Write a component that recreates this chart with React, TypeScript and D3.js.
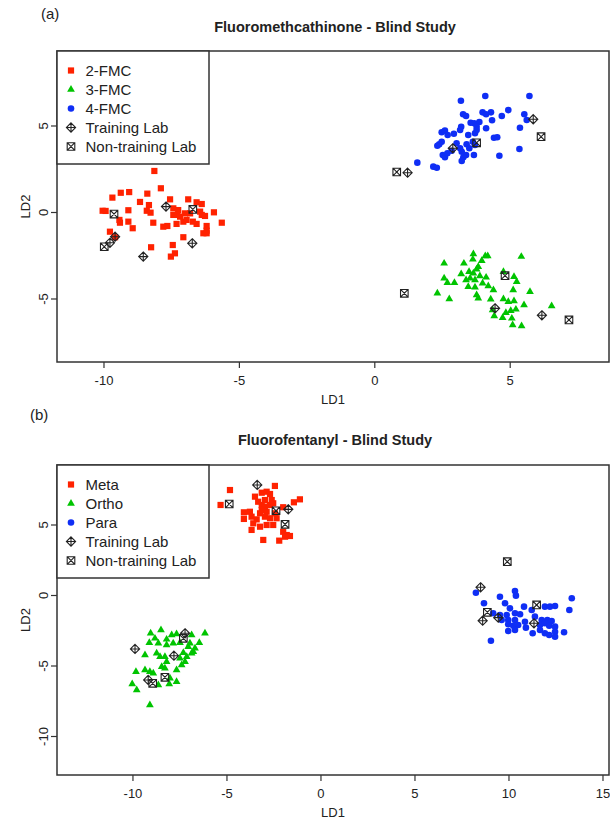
import React from 'react';
import * as d3 from 'd3';

type Pt = [number, number];

// ---- (a) Fluoromethcathinone ----
const fmc2: Pt[] = [
  [-8.14, 2.4], [-9.38, 1.14], [-9.07, 1.18], [-9.69, 0.86], [-8.4, 1.09], [-7.9, 1.4],
  [-8.67, 0.61], [-8.34, 0.43], [-7.56, 0.76], [-6.89, 0.76], [-6.58, 0.59], [-6.39, 0.49],
  [-9.1, 0.13], [-10.05, 0.1], [-9.94, 0.09], [-8.42, 0.1], [-8.28, -0.01], [-7.44, 0.24],
  [-7.26, 0.14], [-7.29, -0.14], [-7.44, -0.14], [-7.19, -0.24], [-7.01, -0.05], [-6.82, -0.05],
  [-6.45, 0.05], [-6.39, -0.14], [-6.27, -0.2], [-5.94, 0.01], [-9.43, -0.43], [-9.41, -0.59],
  [-9.1, -0.53], [-8.18, -0.59], [-7.81, -0.82], [-7.66, -0.78], [-7.32, -0.66], [-7.07, -0.53],
  [-6.95, -0.43], [-6.72, -0.53], [-6.58, -0.66], [-6.21, -0.78], [-5.65, -0.59], [-8.94, -0.91],
  [-6.21, -1.05], [-6.33, -1.2], [-6.21, -1.2], [-9.78, -1.11], [-7.07, -1.43], [-8.26, -2.01],
  [-7.46, -1.88], [-7.38, -2.36], [-7.53, -2.55], [-9.59, -1.43],
];
const fmc3: Pt[] = [
  [3.64, -2.4], [3.62, -2.71], [4.08, -2.51], [4.17, -2.51], [3.95, -2.79], [5.41, -2.55],
  [2.56, -2.94], [3.29, -2.94], [3.82, -3.13], [3.19, -3.55], [3.48, -3.42], [3.64, -3.51],
  [3.76, -3.28], [2.56, -3.8], [2.68, -4.06], [2.94, -4.06], [3.37, -3.9], [3.52, -3.8],
  [3.7, -3.9], [3.88, -3.67], [4.11, -3.75], [3.45, -4.29], [3.7, -4.32], [3.98, -4.09],
  [4.19, -4.25], [4.38, -4.48], [4.75, -3.42], [5.14, -3.71], [5.24, -4.0], [5.11, -4.48],
  [5.73, -4.58], [2.31, -4.67], [2.75, -5.0], [3.76, -4.77], [3.82, -4.96], [4.28, -5.02],
  [4.75, -5.0], [4.93, -5.16], [5.14, -5.12], [5.51, -5.35], [6.53, -5.4], [4.35, -5.64],
  [5.21, -5.6], [5.02, -5.68], [4.41, -5.98], [4.72, -6.08], [5.06, -6.12], [5.09, -6.5],
  [5.42, -6.56], [4.84, -5.79],
];
const fmc4: Pt[] = [
  [3.18, 6.46], [4.08, 6.73], [5.71, 6.73], [3.26, 5.68], [3.37, 5.58], [3.98, 5.79],
  [4.11, 5.68], [4.29, 5.79], [4.93, 5.92], [4.69, 5.58], [5.52, 5.68], [5.61, 5.35],
  [4.33, 5.33], [3.54, 5.19], [3.67, 5.16], [3.86, 5.23], [3.76, 4.96], [3.19, 4.96],
  [3.15, 4.77], [4.11, 4.87], [5.36, 4.9], [2.47, 4.64], [2.59, 4.73], [2.69, 4.48],
  [2.92, 4.55], [3.45, 4.48], [3.7, 4.58], [3.76, 4.77], [4.4, 4.32], [4.52, 4.35],
  [2.47, 4.09], [2.38, 3.94], [2.31, 3.86], [3.02, 4.0], [3.15, 3.71], [3.39, 3.94],
  [3.49, 3.71], [3.62, 4.09], [3.7, 3.9], [2.51, 3.32], [2.59, 3.19], [2.68, 3.42],
  [2.84, 3.57], [3.21, 3.51], [3.37, 3.32], [3.27, 3.19], [3.66, 3.32], [3.21, 2.98],
  [4.6, 3.28], [5.34, 3.67], [1.57, 2.88], [2.16, 2.65], [2.29, 2.59],
];
const fmcTraining: Pt[] = [
  [-7.71, 0.34], [-9.59, -1.4], [-9.78, -1.75], [-6.74, -1.78], [-8.55, -2.55],
  [4.44, -5.54], [6.17, -5.94],
  [5.85, 5.39], [2.88, 3.71], [1.21, 2.3],
];
const fmcNonTraining: Pt[] = [
  [-9.63, -0.09], [-6.72, 0.18], [-9.99, -1.98],
  [4.81, -3.65], [1.09, -4.67], [7.17, -6.21],
  [3.76, 4.03], [6.14, 4.38], [0.81, 2.34],
];

// ---- (b) Fluorofentanyl ----
const meta: Pt[] = [
  [-4.84, 7.48], [-2.45, 7.77], [-5.34, 6.42], [-3.51, 7.01], [-3.15, 7.29], [-2.89, 7.36],
  [-2.71, 7.2], [-3.34, 6.65], [-2.98, 6.77], [-2.62, 6.77], [-3.15, 6.42], [-2.98, 6.3],
  [-2.71, 6.42], [-2.54, 6.54], [-3.15, 6.06], [-2.89, 5.94], [-1.12, 6.82], [-1.44, 6.61],
  [-2.01, 6.26], [-4.1, 5.9], [-3.78, 5.94], [-4.1, 5.43], [-3.69, 5.59], [-3.42, 5.4],
  [-3.24, 5.83], [-2.98, 5.59], [-2.71, 5.48], [-2.45, 5.83], [-2.36, 5.48], [-3.6, 5.12],
  [-3.24, 4.88], [-2.89, 5.0], [-2.54, 5.0], [-3.69, 4.65], [-2.01, 4.52], [-1.82, 4.29],
  [-1.65, 4.22], [-1.91, 4.17], [-3.07, 3.94], [-2.22, 3.89],
];
const ortho: Pt[] = [
  [-8.51, -2.45], [-9.06, -2.68], [-7.94, -2.8], [-7.68, -2.73], [-6.88, -2.8], [-6.17, -2.68],
  [-8.83, -3.04], [-9.13, -3.35], [-8.65, -3.39], [-8.21, -3.11], [-8.21, -3.51], [-7.86, -3.39],
  [-7.5, -3.35], [-6.97, -3.39], [-6.47, -3.35], [-6.7, -3.74], [-9.36, -4.22], [-8.74, -4.1],
  [-8.56, -4.34], [-8.3, -4.34], [-8.21, -4.7], [-7.5, -4.45], [-7.14, -4.34], [-6.88, -4.1],
  [-6.79, -3.99], [-7.23, -4.7], [-7.41, -4.93], [-8.47, -5.05], [-8.3, -5.16], [-7.68, -5.28],
  [-9.84, -5.4], [-9.36, -5.28], [-9.1, -5.4], [-8.92, -5.52], [-8.03, -5.87], [-7.68, -6.11],
  [-8.07, -6.28], [-10.04, -6.28], [-9.8, -6.7], [-8.65, -6.35], [-9.1, -7.77], [-7.32, -4.06],
  [-7.06, -3.63],
];
const para: Pt[] = [
  [8.24, 0.2], [10.32, 0.32], [10.37, -0.01], [9.52, -0.09], [8.67, -0.55], [9.79, -0.55],
  [10.8, -0.79], [10.05, -0.91], [13.34, -0.2], [13.21, -1.03], [11.21, -1.03], [11.91, -0.79],
  [12.18, -0.79], [12.45, -0.74], [9.52, -1.38], [9.88, -1.38], [10.32, -1.26], [10.59, -1.33],
  [9.61, -1.74], [9.96, -1.74], [10.32, -1.74], [9.96, -2.04], [10.23, -2.14], [10.49, -2.09],
  [10.85, -1.86], [11.38, -1.5], [11.74, -1.74], [12.04, -1.74], [12.27, -1.81], [11.65, -2.09],
  [11.91, -1.97], [12.14, -2.14], [12.45, -2.21], [10.9, -2.28], [9.96, -2.52], [10.32, -2.45],
  [11.26, -2.68], [11.65, -2.45], [11.91, -2.68], [12.45, -2.57], [12.14, -2.8], [12.45, -2.92],
  [12.93, -2.61], [9.04, -3.21], [9.16, -1.26],
];
const fenTraining: Pt[] = [
  [-3.39, 7.84], [-1.74, 6.11],
  [-9.89, -3.79], [-7.82, -4.27], [-9.19, -5.99], [-7.23, -2.68],
  [8.49, 0.58], [8.6, -1.79], [9.43, -1.57], [11.33, -1.97],
];
const fenNonTraining: Pt[] = [
  [-4.88, 6.49], [-2.39, 6.01], [-1.91, 5.05],
  [-7.32, -3.04], [-8.3, -5.8], [-8.95, -6.23],
  [9.91, 2.4], [11.47, -0.67], [8.85, -1.19],
];

const topXTicks = [-10, -5, 0, 5];
const topYTicks = [-5, 0, 5];
const botXTicks = [-10, -5, 0, 5, 10, 15];
const botYTicks = [-10, -5, 0, 5];
const topLegend = ['2-FMC', '3-FMC', '4-FMC', 'Training Lab', 'Non-training Lab'];
const botLegend = ['Meta', 'Ortho', 'Para', 'Training Lab', 'Non-training Lab'];

const RED = '#ff2200';
const GREEN = '#00c400';
const BLUE = '#0f2ef5';
const FONT = '"Liberation Sans", Arial, Helvetica, sans-serif';
const LEFT = 57;
const RIGHT = 609;

type Kind = 'square' | 'triangle' | 'circle' | 'training' | 'nontraining';

const tri = d3.symbol(d3.symbolTriangle, 26)() as string;

function Marker({ kind, x, y }: { kind: Kind; x: number; y: number }) {
  if (kind === 'square') return <rect x={x - 3.1} y={y - 3.1} width={6.2} height={6.2} fill={RED} />;
  if (kind === 'circle') return <circle cx={x} cy={y} r={3.3} fill={BLUE} />;
  if (kind === 'triangle') return <path d={tri} transform={`translate(${x},${y})`} fill={GREEN} />;
  if (kind === 'training') {
    const r = 4.6;
    return (
      <path
        d={`M${x},${y - r}L${x + r},${y}L${x},${y + r}L${x - r},${y}Z M${x},${y - r}V${y + r} M${x - r},${y}H${x + r}`}
        fill="none" stroke="#222" strokeWidth={1.1}
      />
    );
  }
  const s = 3.8;
  return (
    <path
      d={`M${x - s},${y - s}H${x + s}V${y + s}H${x - s}Z M${x - s},${y - s}L${x + s},${y + s} M${x + s},${y - s}L${x - s},${y + s}`}
      fill="none" stroke="#222" strokeWidth={1.1}
    />
  );
}

type PanelProps = {
  tag: string; tagX: number; tagY: number;
  title: string; titleY: number;
  top: number; bottom: number;
  xDomain: [number, number]; yDomain: [number, number];
  xTicks: number[]; yTicks: number[];
  groups: Pt[][]; training: Pt[]; nonTraining: Pt[];
  legend: string[];
};

const groupKinds: Kind[] = ['square', 'triangle', 'circle'];

function Panel(p: PanelProps) {
  const x = d3.scaleLinear().domain(p.xDomain).range([LEFT, RIGHT]);
  const y = d3.scaleLinear().domain(p.yDomain).range([p.bottom, p.top]);
  const midX = (LEFT + RIGHT) / 2;
  const midY = (p.top + p.bottom) / 2;
  const legendKinds: Kind[] = [...groupKinds, 'training', 'nontraining'];
  return (
    <g fontFamily={FONT} fill="#222">
      <text x={p.tagX} y={p.tagY} fontSize={15}>{p.tag}</text>
      <text x={midX + 2} y={p.titleY} fontSize={14.5} fontWeight="bold" textAnchor="middle">{p.title}</text>

      {p.groups.map((g, gi) =>
        g.map((d, i) => <Marker key={`${gi}-${i}`} kind={groupKinds[gi]} x={x(d[0])} y={y(d[1])} />)
      )}
      {p.nonTraining.map((d, i) => <Marker key={`n${i}`} kind="nontraining" x={x(d[0])} y={y(d[1])} />)}
      {p.training.map((d, i) => <Marker key={`t${i}`} kind="training" x={x(d[0])} y={y(d[1])} />)}

      <rect x={LEFT} y={p.top} width={RIGHT - LEFT} height={p.bottom - p.top} fill="none" stroke="#333" strokeWidth={1.5} />

      {p.xTicks.map(t => (
        <g key={`x${t}`}>
          <line x1={x(t)} x2={x(t)} y1={p.bottom} y2={p.bottom + 6} stroke="#333" strokeWidth={1.2} />
          <text x={x(t)} y={p.bottom + 23} fontSize={13} textAnchor="middle">{t}</text>
        </g>
      ))}
      {p.yTicks.map(t => (
        <g key={`y${t}`}>
          <line x1={LEFT} x2={LEFT - 6} y1={y(t)} y2={y(t)} stroke="#333" strokeWidth={1.2} />
          <text transform={`translate(${LEFT - 9.5},${y(t)}) rotate(-90)`} fontSize={13} textAnchor="middle">{t}</text>
        </g>
      ))}
      <text x={midX} y={p.bottom + 41.5} fontSize={13} textAnchor="middle">LD1</text>
      <text transform={`translate(30,${midY}) rotate(-90)`} fontSize={13} textAnchor="middle">LD2</text>

      <rect x={LEFT} y={p.top} width={152} height={113} fill="#fff" stroke="#333" strokeWidth={1.5} />
      {p.legend.map((label, i) => {
        const ly = p.top + 19.5 + i * 19;
        return (
          <g key={label}>
            <Marker kind={legendKinds[i]} x={71} y={ly} />
            <text x={85.5} y={ly + 5.3} fontSize={15}>{label}</text>
          </g>
        );
      })}
    </g>
  );
}

export default function App() {
  return (
    <svg width={610} height={820} style={{ position: 'absolute', left: 0, top: 0, background: '#fff' }}>
      <rect width={610} height={820} fill="#fff" />
      <Panel
        tag="(a)" tagX={41} tagY={19}
        title="Fluoromethcathinone - Blind Study" titleY={31.5}
        top={51} bottom={362}
        xDomain={[-11.735, 8.648]} yDomain={[-8.642, 9.335]}
        xTicks={topXTicks} yTicks={topYTicks}
        groups={[fmc2, fmc3, fmc4]} training={fmcTraining} nonTraining={fmcNonTraining}
        legend={topLegend}
      />
      <Panel
        tag="(b)" tagX={30} tagY={420}
        title="Fluorofentanyl - Blind Study" titleY={444.5}
        top={465} bottom={775}
        xDomain={[-14.04, 15.32]} yDomain={[-12.73, 9.255]}
        xTicks={botXTicks} yTicks={botYTicks}
        groups={[meta, ortho, para]} training={fenTraining} nonTraining={fenNonTraining}
        legend={botLegend}
      />
    </svg>
  );
}
